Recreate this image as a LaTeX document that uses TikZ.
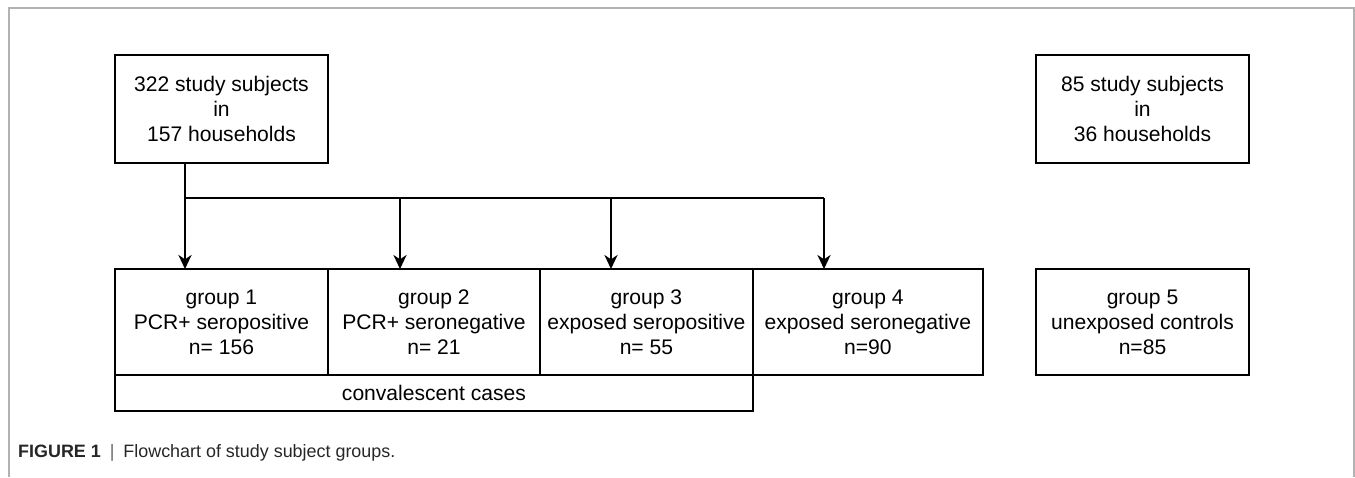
\documentclass[tikz,border=0pt]{standalone}
\usepackage{fontspec}
\setmainfont{Liberation Sans}
\usetikzlibrary{arrows.meta,positioning}
\tikzset{%
	subjects/.style = {draw, rectangle, line width=1.1pt, outer sep=0pt, minimum width=4.26cm, minimum height=2.16cm, align=center, font=\fontsize{12}{14.2}\selectfont},
	group/.style    = {subjects, minimum height=2.12cm},
	arrow/.style    = {line width=1.1pt, -{Stealth[length=8pt,width=7.5pt,inset=2.5pt]}},
	frame/.style    = {draw=black!30, line width=0.8pt},
}
\begin{document}
\begin{tikzpicture}[x=0.02cm,y=-0.02cm]
			\useasboundingbox (0,0) rectangle (1355,477);
			\draw[frame] (9,477) -- (9,8) -- (1354,8) -- (1354,477);
			\node[subjects] (all) at (221.5,109) {322 study subjects\\in\\157 households};
			\node[subjects] (ctrl) at (1142.5,109) {85 study subjects\\in\\36 households};
			\node[group] (g1) at (221.5,322) {group 1\\PCR+ seropositive\\n= 156};
			\node[group, minimum width=4.24cm, right=0pt of g1] (g2) {group 2\\PCR+ seronegative\\n= 21};
			\node[group, right=0pt of g2] (g3) {group 3\\exposed seropositive\\n= 55};
			\node[group, minimum width=4.6cm, right=0pt of g3] (g4) {group 4\\exposed seronegative\\n=90};
			\node[group] (g5) at (1142.5,322) {group 5\\unexposed controls\\n=85};
			\node[subjects, minimum width=12.76cm, minimum height=0.72cm, anchor=north west] (conv) at (g1.south west) {convalescent cases};
			% split line
			\coordinate (split) at (185,198);
			\coordinate (c2) at (400,198);
			\coordinate (c3) at (611,198);
			\coordinate (c4) at (824,198);
			\draw[line width=1.1pt] (all.south -| split) -- (split) -- (c4);
			\draw[arrow] (split) -- (split |- g1.north);
			\foreach \c/\g in {c2/g2,c3/g3,c4/g4}
				\draw[arrow] (\c) -- (\c |- \g.north);
			\node[anchor=west, font=\fontsize{10.2}{12}\selectfont, text=black!85] (caption) at (12,453) {\textbf{FIGURE 1}\enspace{\color{black!60}|}\enspace Flowchart of study subject groups.};
			\end{tikzpicture}
\end{document}
